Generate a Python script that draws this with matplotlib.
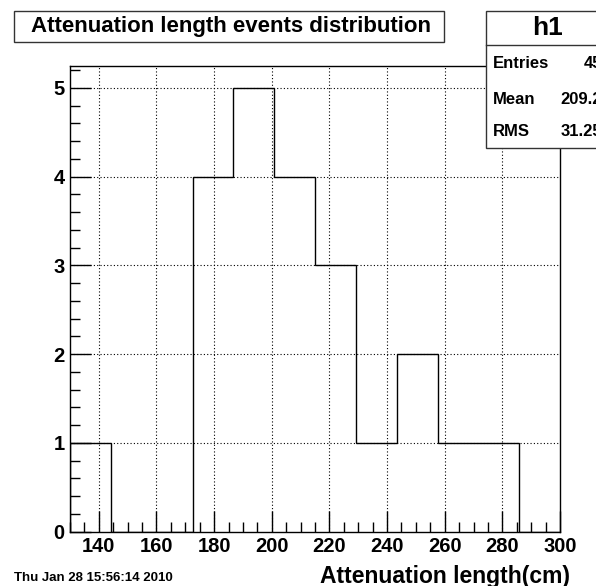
import matplotlib
matplotlib.use("Agg")
import matplotlib.pyplot as plt
from matplotlib.patches import Rectangle
from matplotlib.ticker import MultipleLocator
import numpy as np

# ---- data ----
bin_edges = np.linspace(130, 300, 13)
counts = [1, 0, 0, 4, 5, 4, 3, 1, 2, 1, 1, 0]
title = "Attenuation length events distribution"
xlabel = "Attenuation length(cm)"
date_text = "Thu Jan 28 15:56:14 2010"
stats_name = "h1"
stats_labels = ["Entries", "Mean", "RMS"]
stats_values = ["45", "209.2", "31.25"]
x_ticks = [140, 160, 180, 200, 220, 240, 260, 280, 300]
y_ticks = [0, 1, 2, 3, 4, 5]

W, H = 596, 586
plt.rcParams['font.family'] = ['Liberation Sans', 'DejaVu Sans']
plt.rcParams['font.weight'] = 'bold'

fig = plt.figure(figsize=(W / 100, H / 100), dpi=100)
fig.patch.set_facecolor('white')

def fx(px):
    return px / W

def fy(py):
    return 1 - py / H

ax = fig.add_axes([fx(70), fy(531.7), fx(560) - fx(70), fy(65.7) - fy(531.7)])
ax.stairs(counts, bin_edges, color='black', linewidth=1.0, fill=False, baseline=0)
ax.set_xlim(130, 300)
ax.set_ylim(0, 5.25)

ax.set_xticks(x_ticks)
ax.set_yticks(y_ticks)
ax.xaxis.set_minor_locator(MultipleLocator(5))
ax.yaxis.set_minor_locator(MultipleLocator(0.2))
ax.tick_params(axis='both', which='major', direction='in', length=15, width=1.0,
               labelsize=14.5, pad=4, colors='black')
ax.tick_params(axis='both', which='minor', direction='in', length=7, width=1.0)
ax.tick_params(axis='x', which='major', pad=4)
ax.tick_params(top=False, right=False, which='both')
for lab in ax.get_xticklabels() + ax.get_yticklabels():
    lab.set_fontweight('bold')

for v in [140, 160, 180, 200, 220, 240, 260, 280]:
    ax.axvline(v, color='black', linestyle=(0, (1, 2)), linewidth=0.8, zorder=0)
for v in [1, 2, 3, 4, 5]:
    ax.axhline(v, color='black', linestyle=(0, (1, 2)), linewidth=0.8, zorder=0)

for s in ax.spines.values():
    s.set_linewidth(1.0)
    s.set_color('black')

# title box
fig.patches.append(Rectangle((fx(14), fy(42)), fx(444) - fx(14), fy(11) - fy(42),
                             transform=fig.transFigure, facecolor='white',
                             edgecolor='#333333', linewidth=1.0))
fig.text(fx(231), fy(26.5), title, ha='center', va='center', fontsize=16,
         fontweight='bold')

# stats box (extends past right edge)
fig.patches.append(Rectangle((fx(486), fy(148)), fx(620) - fx(486), fy(11) - fy(148),
                             transform=fig.transFigure, facecolor='white',
                             edgecolor='#333333', linewidth=1.0, zorder=5))
fig.add_artist(plt.Line2D([fx(486), fx(620)], [fy(45), fy(45)],
                          transform=fig.transFigure, color='#333333', linewidth=1.0,
                          zorder=6))
fig.text(fx(548), fy(28), stats_name, ha='center', va='center', fontsize=19,
         fontweight='bold', zorder=7)
row_y = [63, 99, 132]
for lbl, val, yy in zip(stats_labels, stats_values, row_y):
    fig.text(fx(493), fy(yy), lbl, ha='left', va='center', fontsize=12,
             fontweight='bold', zorder=7)
    fig.text(fx(602), fy(yy), val, ha='right', va='center', fontsize=12,
             fontweight='bold', zorder=7)

# x axis title and date
fig.text(fx(570), fy(576), xlabel, ha='right', va='center', fontsize=16.5,
         fontweight='bold')
fig.text(fx(14), fy(578), date_text, ha='left', va='center', fontsize=9.5,
         fontweight='bold')

fig.savefig('out.png', dpi=100, facecolor='white')
